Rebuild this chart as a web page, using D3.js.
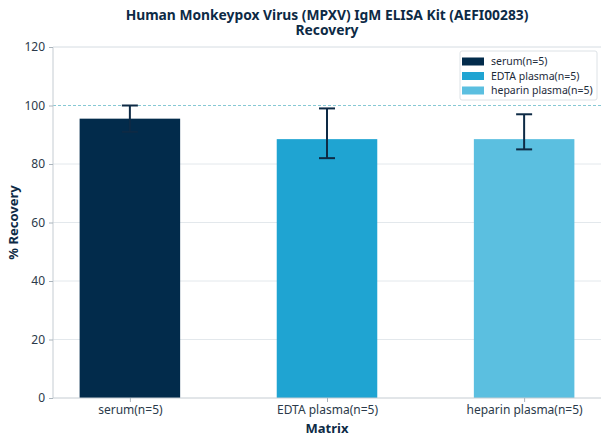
<!DOCTYPE html>
<html lang="en">
<head>
<meta charset="UTF-8">
<title>Recovery</title>
<style>
    body { margin: 0; background: #fff; }
    text { font-family: "Noto Sans", "Open Sans", sans-serif; }
    .tick text { fill: #2b3a4a; font-size: 12px; }
    .tick line { stroke: #aab4bc; }
    .domain { stroke: #c5ccd2; }
</style>
</head>
<body>
<script src="https://d3js.org/d3.v7.min.js"></script>
<script>

    const categories = ['serum(n=5)', 'EDTA plasma(n=5)', 'heparin plasma(n=5)'];
    const recovery = [95.5, 88.5, 88.5];
    const errLow = [91, 82, 85];
    const errHigh = [100, 99, 97];
    const colors = ['#022b4b', '#1fa4d2', '#5bbfe0'];
    const yTicks = [0, 20, 40, 60, 80, 100, 120];

    const width = 608;
    const height = 444;
    const margin = {top: 47, right: 7, bottom: 46, left: 53};

    let svg = d3.select('body').append('svg')
        .attr('width', width)
        .attr('height', height);

    let x = d3.scaleLinear()
        .domain([-0.39, 2.39])
        .range([margin.left, width - margin.right]);

    let y = d3.scaleLinear()
        .domain([0, 120])
        .range([height - margin.bottom, margin.top]);

    const barW = x(0.51) - x(0);

    // grid
    svg.append('g').selectAll('line')
        .data(yTicks.filter(d => d > 0 && d !== 100))
        .enter().append('line')
        .attr('x1', margin.left).attr('x2', width - margin.right)
        .attr('y1', d => y(d)).attr('y2', d => y(d))
        .attr('stroke', '#e3e8ec').attr('stroke-width', 1);

    // reference line at 100
    svg.append('line')
        .attr('x1', margin.left).attr('x2', width - margin.right)
        .attr('y1', y(100)).attr('y2', y(100))
        .attr('stroke', '#86c8d4').attr('stroke-width', 1)
        .attr('stroke-dasharray', '3,2');

    // bars
    svg.append('g').selectAll('rect')
        .data(categories)
        .enter().append('rect')
        .attr('x', (d, i) => x(i) - barW / 2)
        .attr('y', (d, i) => y(recovery[i]))
        .attr('width', barW)
        .attr('height', (d, i) => y(0) - y(recovery[i]))
        .attr('fill', (d, i) => colors[i]);

    // error bars
    let eb = svg.append('g').attr('stroke', '#0d2a45').attr('stroke-width', 2);
    categories.forEach(function (c, i) {
        eb.append('line')
            .attr('x1', x(i)).attr('x2', x(i))
            .attr('y1', y(errLow[i])).attr('y2', y(errHigh[i]));
        [errLow[i], errHigh[i]].forEach(function (v) {
            eb.append('line')
                .attr('x1', x(i) - 8).attr('x2', x(i) + 8)
                .attr('y1', y(v)).attr('y2', y(v));
        });
    });

    // axes
    svg.append('g')
        .attr('transform', 'translate(' + margin.left + ',0)')
        .call(d3.axisLeft(y).tickValues(yTicks).tickSize(4).tickPadding(4))
        .call(g => g.select('.domain').attr('d', 'M0,' + y(0) + 'V' + y(120)));

    svg.append('g')
        .attr('transform', 'translate(0,' + y(0) + ')')
        .call(d3.axisBottom(x).tickValues([0, 1, 2]).tickFormat(i => categories[i]).tickSize(4).tickPadding(3))
        .call(g => g.select('.domain').attr('d', 'M' + margin.left + ',0H' + (width - margin.right)));

    // top grid line at 120
    svg.append('line')
        .attr('x1', margin.left).attr('x2', width - margin.right)
        .attr('y1', y(120)).attr('y2', y(120))
        .attr('stroke', '#e3e8ec');

    // labels
    svg.append('text')
        .attr('x', (margin.left + width - margin.right) / 2)
        .attr('y', 433)
        .attr('text-anchor', 'middle')
        .attr('font-size', 13).attr('font-weight', 'bold')
        .attr('fill', '#0d2a45')
        .text('Matrix');

    svg.append('text')
        .attr('transform', 'translate(18,' + y(60) + ') rotate(-90)')
        .attr('text-anchor', 'middle')
        .attr('font-size', 13).attr('font-weight', 'bold')
        .attr('fill', '#0d2a45')
        .text('% Recovery');

    svg.append('text')
        .attr('x', 327).attr('y', 19.5)
        .attr('text-anchor', 'middle')
        .attr('font-size', 13.8).attr('font-weight', 'bold')
        .attr('fill', '#0d2a45')
        .text('Human Monkeypox Virus (MPXV) IgM ELISA Kit (AEFI00283)');
    svg.append('text')
        .attr('x', 327).attr('y', 34.8)
        .attr('text-anchor', 'middle')
        .attr('font-size', 13.8).attr('font-weight', 'bold')
        .attr('fill', '#0d2a45')
        .text('Recovery');

    // legend
    let lg = svg.append('g');
    lg.append('rect')
        .attr('x', 460).attr('y', 51).attr('width', 137).attr('height', 49)
        .attr('rx', 2)
        .attr('fill', '#fff').attr('fill-opacity', 0.9)
        .attr('stroke', '#dde2e6');
    categories.forEach(function (c, i) {
        lg.append('rect')
            .attr('x', 462).attr('y', 61.5 + i * 14.5 - 4)
            .attr('width', 22).attr('height', 8)
            .attr('fill', colors[i]);
        lg.append('text')
            .attr('x', 491).attr('y', 61.5 + i * 14.5 + 3.8)
            .attr('font-size', 10.5).attr('fill', '#1c2b3a')
            .text(c);
    });

</script>
</body>
</html>
